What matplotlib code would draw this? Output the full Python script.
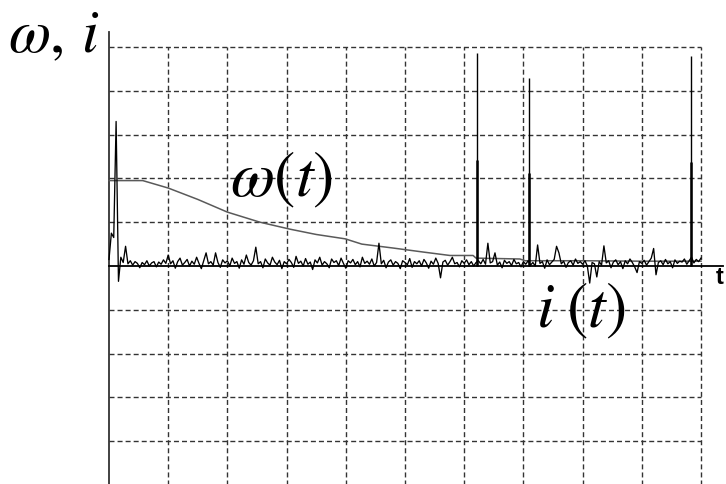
import numpy as np
import matplotlib
matplotlib.use("Agg")
import matplotlib.pyplot as plt

plt.rcParams['mathtext.fontset'] = 'stix'

# omega(t): slowly decaying speed
w_t = [0.0, 0.57, 1.0, 1.5, 2.0, 2.55, 3.06, 3.5, 3.99, 4.27, 4.8, 5.3, 5.76, 6.15, 6.2,
       6.94, 7.03, 8.0, 9.0, 10.0]
w_val = [1.95, 1.95, 1.78, 1.52, 1.23, 1.0, 0.84, 0.72, 0.62, 0.5, 0.41, 0.32, 0.24, 0.24, 0.18,
         0.16, 0.12, 0.12, 0.11, 0.11]

# i(t): noisy current, sampled every 0.04
i_step = 0.04
i_val = [
    0.15, 0.75, 0.65, 3.3, -0.35, 0.2, 0.08, 0.45, 0.05, 0.12, 0.02, 0.1, 0.06, -0.04, 0.08, 0.03, 0.12, 0.0, 0.07, 0.1, -0.02, 0.09, 0.04, 0.14, 0.06,
    0.25, 0.05, 0.12, -0.05, 0.1, 0.18, 0.02, 0.08, 0.15, 0.0, 0.11, 0.04, 0.2, 0.06, -0.06, 0.12, 0.3, 0.05, 0.1, 0.02, 0.3, 0.08, -0.03, 0.14, 0.07,
    0.12, 0.0, 0.18, 0.06, 0.1, -0.05, 0.14, 0.04, 0.25, 0.08, 0.02, 0.12, 0.43, 0.05, 0.1, -0.04, 0.16, 0.07, 0.02, 0.2, 0.09, 0.03, 0.13, -0.06, 0.1,
    0.05, 0.15, 0.08, -0.03, 0.22, 0.06, 0.11, 0.0, 0.17, 0.04, 0.09, -0.08, 0.14, 0.07, 0.2, 0.02, 0.1, 0.05, -0.04, 0.16, 0.08, 0.12, 0.01, 0.18, 0.06,
    -0.05, 0.12, 0.07, 0.15, 0.03, 0.1, -0.02, 0.2, 0.06, 0.11, 0.04, 0.16, 0.0, 0.08, 0.52, 0.05, 0.13, -0.04, 0.09, 0.14, 0.02, 0.1, 0.06, -0.06, 0.12,
    0.08, 0.03, 0.17, -0.03, 0.1, 0.05, 0.12, 0.0, 0.15, 0.07, -0.05, 0.11, 0.04, 0.18, 0.06, -0.27, 0.09, 0.13, 0.02, 0.1, 0.2, 0.05, 0.08, -0.02, 0.12,
    0.06, 0.14, 0.03, 0.1, 0.0, 0.08, 0.12, 0.05, 0.15, 0.04, 0.52, 0.07, 0.1, 0.3, 0.02, 0.09, -0.04, 0.13, 0.06, 0.1, 0.01, 0.15, 0.05, 0.08, -0.02,
    0.1, 0.04, 0.12, 0.02, 0.08, 0.0, 0.48, 0.06, 0.1, -0.05, 0.14, 0.03, 0.09, 0.15, 0.45, 0.3, 0.05, 0.11, -0.03, 0.08, 0.12, 0.02, 0.16, 0.06, 0.1,
    0.04, 0.12, 0.0, -0.39, 0.08, 0.05, -0.25, 0.1, 0.02, 0.46, 0.07, 0.12, -0.04, 0.09, 0.14, 0.03, 0.1, -0.06, 0.12, 0.05, 0.16, 0.08, -0.02, -0.15, 0.1,
    0.06, 0.13, 0.02, 0.1, 0.18, 0.4, -0.2, 0.08, 0.12, 0.03, 0.15, 0.05, 0.1, -0.04, 0.14, 0.06, 0.11, 0.09, 0.16, 0.04, 0.12, 0.2, 0.07, 0.15, 0.1,
    0.18,
]
i_t = np.arange(len(i_val)) * i_step

# current spikes: peak and the thicker lower part
spike_t = [6.21, 7.09, 9.83]
spike_hi = [4.86, 4.3, 4.8]
spike_mid = [2.43, 2.13, 2.38]

fig = plt.figure(figsize=(7.26, 4.84), dpi=100)
ax = fig.add_axes([0, 0, 1, 1])
ax.axis('off')
ax.set_xlim(-109 / 59.2, (726 - 109) / 59.2)
ax.set_ylim(-(484 - 266) / 43.8, 266 / 43.8)

# dashed grid
grid_kw = dict(color='#333333', lw=1.0, dashes=(3.6, 2.2))
for gx in range(1, 11):
    ax.plot([gx, gx], [-5, 5], **grid_kw)
for gy in range(-4, 6):
    if gy != 0:
        ax.plot([0, 10], [gy, gy], **grid_kw)

# axes lines
ax.plot([0, 0], [-5, 5.34], color='#333333', lw=1.3)
ax.plot([0, 10.37], [0, 0], color='black', lw=1.3)

# curves
ax.plot(w_t, w_val, color='#5a5a5a', lw=1.1)
ax.plot(i_t, i_val, color='black', lw=0.95)
ax.vlines(spike_t, 0, spike_hi, color='black', lw=1.0)
ax.vlines(spike_t, 0, spike_mid, color='black', lw=1.8)

# labels
fig.text(8 / 726, 1 - 52 / 484, r'$\omega,\,i$', fontsize=44, va='baseline')
fig.text(230 / 726, 1 - 196 / 484, r'$\omega(t)$', fontsize=46, va='baseline')
fig.text(536 / 726, 1 - 327 / 484, r'$i\;(t)$', fontsize=46, va='baseline')
fig.text(716 / 726, 1 - 284 / 484, 't', fontsize=17, fontweight='bold',
         family='Liberation Sans', va='baseline')

fig.savefig('out.png', dpi=100)
